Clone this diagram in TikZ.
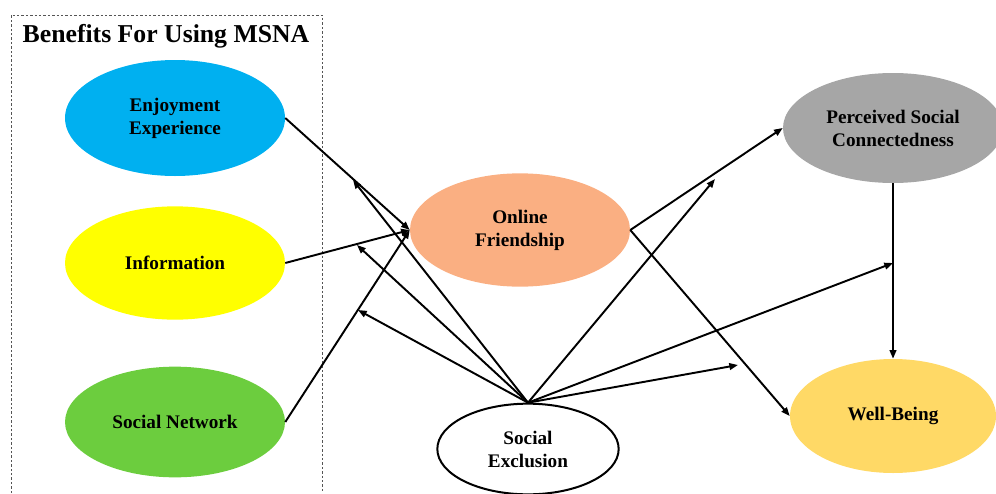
\documentclass[tikz,border=0pt]{standalone}
\usepackage{fontspec}
\setmainfont{Liberation Serif}
\usetikzlibrary{shapes.geometric,arrows.meta,calc}
\definecolor{enjc}{HTML}{00B0F0}
\definecolor{infc}{HTML}{FFFF00}
\definecolor{snc}{HTML}{6CCD3E}
\definecolor{ofc}{HTML}{FAAF82}
\definecolor{pscc}{HTML}{A6A6A6}
\definecolor{wbc}{HTML}{FFD966}
\definecolor{boxc}{HTML}{555555}
\begin{document}
\begin{tikzpicture}[x=0.75pt,y=-0.75pt,
  bub/.style={ellipse, align=center, inner sep=0pt,
    font=\bfseries\fontsize{14.4}{17.3}\selectfont},
  conn/.style={line width=1.45pt, -{Triangle[length=6.5pt,width=5pt]}},
  framebox/.style={draw=boxc, line width=0.6pt, dash pattern=on 1.8pt off 1.5pt},
  titletext/.style={font=\bfseries\fontsize{19.3}{23}\selectfont, inner sep=0pt}
]
\useasboundingbox (0,0) rectangle (996,493);

% frame of benefits
\draw[framebox] (11,493) -- (11,15) -- (322,15) -- (322,493);
\node[titletext] (title) at (166,36) {Benefits For Using MSNA};

% nodes
\node[bub, fill=enjc, minimum width=165pt, minimum height=87pt] (enj) at (175,118) {Enjoyment\\Experience};
\node[bub, fill=infc, minimum width=165pt, minimum height=85pt] (inf) at (175,263) {Information};
\node[bub, fill=snc, minimum width=165pt, minimum height=83pt] (sn) at (175,422) {Social Network};
\node[bub, fill=ofc, minimum width=165pt, minimum height=85pt] (of) at (520,230) {Online\\Friendship};
\node[bub, fill=pscc, minimum width=165pt, minimum height=82.5pt] (psc) at (893,128) {Perceived Social\\Connectedness};
\node[bub, fill=wbc, minimum width=154.5pt, minimum height=85.5pt] (wb) at (893,416) {Well-Being};
\node[bub, draw=black, line width=1.5pt, fill=white, minimum width=136pt, minimum height=68pt] (se) at (528,449) {Social\\Exclusion};

% moderation targets
\coordinate (m1) at (353,180);
\coordinate (m2) at (357,245);
\coordinate (m3) at (358,310);
\coordinate (m4) at (715,179);
\coordinate (m5) at (893,263);
\coordinate (m6) at (738,365);

% direct paths
\draw[conn] (enj.east) -- (of.west);
\draw[conn] (inf.east) -- (of.west);
\draw[conn] (sn.east) -- (of.west);
\draw[conn] (of.east) -- (psc.west);
\draw[conn] (of.east) -- (wb.west);
\draw[conn] (psc.south) -- (wb.north);

% moderation paths
\draw[conn] (se.north) -- (m1);
\draw[conn] (se.north) -- (m2);
\draw[conn] (se.north) -- (m3);
\draw[conn] (se.north) -- (m4);
\draw[conn] (se.north) -- (m5);
\draw[conn] (se.north) -- (m6);
\end{tikzpicture}
\end{document}
